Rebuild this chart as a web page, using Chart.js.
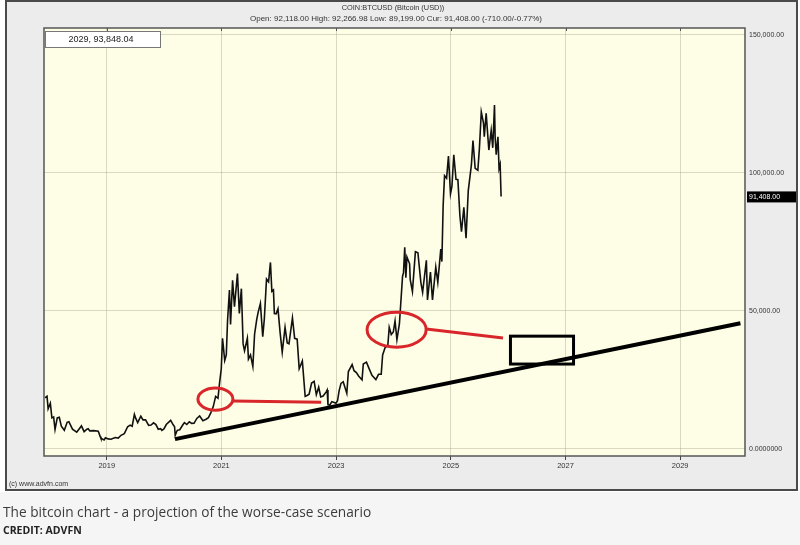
<!DOCTYPE html>
<html>
<head>
<meta charset="utf-8">
<script src="https://cdn.jsdelivr.net/npm/chart.js@4.4.1/dist/chart.umd.min.js"></script>
<style>
  html, body { margin: 0; padding: 0; background: #f5f5f5; }
  #wrap { position: relative; width: 800px; height: 545px; overflow: hidden; }
  #btcChart { position: absolute; left: 0; top: 0; }
  .caption { position: absolute; left: 3px; top: 502px; font-family: "Open Sans", sans-serif; font-size: 13.7px; color: #3c3c3c; white-space: nowrap; }
  .credit { position: absolute; left: 3px; top: 523px; font-family: "Open Sans", sans-serif; font-weight: 700; font-size: 10.5px; color: #222; }
</style>
</head>
<body>
<div id="wrap">
  <canvas id="btcChart" width="800" height="545"></canvas>
  <div class="caption">The bitcoin chart - a projection of the worse-case scenario</div>
  <div class="credit">CREDIT: ADVFN</div>
</div>
<script>
// price history (closes)
const priceDates = [
  "2017-12-05", "2017-12-17", "2017-12-24", "2018-01-07", "2018-01-17", "2018-01-28", "2018-02-06", "2018-02-20",
  "2018-03-05", "2018-03-18", "2018-04-06", "2018-04-24", "2018-05-05", "2018-05-28", "2018-06-24", "2018-07-24",
  "2018-08-10", "2018-08-28", "2018-09-05", "2018-09-15", "2018-10-10", "2018-11-08", "2018-11-20", "2018-11-25",
  "2018-12-15", "2018-12-24",
  "2019-01-10", "2019-01-28", "2019-02-24", "2019-03-15", "2019-04-02", "2019-04-23", "2019-05-14", "2019-05-30",
  "2019-06-12", "2019-06-26", "2019-07-05", "2019-07-17", "2019-08-06", "2019-08-20", "2019-09-05", "2019-09-25",
  "2019-10-10", "2019-10-26", "2019-11-10", "2019-11-25", "2019-12-10", "2019-12-18", "2019-12-31",
  "2020-01-15", "2020-02-12", "2020-02-28", "2020-03-08", "2020-03-12", "2020-03-25", "2020-04-10", "2020-04-30",
  "2020-05-10", "2020-05-25", "2020-06-10", "2020-06-25", "2020-07-10", "2020-07-28", "2020-08-15", "2020-09-05",
  "2020-09-25", "2020-10-10", "2020-10-25", "2020-11-10", "2020-11-25", "2020-12-10", "2020-12-20", "2020-12-31",
  "2021-01-08", "2021-01-22", "2021-02-01", "2021-02-09", "2021-02-21", "2021-02-28", "2021-03-13", "2021-03-25",
  "2021-04-13", "2021-04-25", "2021-05-08", "2021-05-19", "2021-05-28", "2021-06-15", "2021-06-22", "2021-07-05",
  "2021-07-20", "2021-07-31", "2021-08-14", "2021-08-23", "2021-09-06", "2021-09-21", "2021-10-01", "2021-10-15",
  "2021-10-28", "2021-11-09", "2021-11-18", "2021-11-28", "2021-12-04", "2021-12-15", "2021-12-27",
  "2022-01-10", "2022-01-23", "2022-02-10", "2022-02-24", "2022-03-07", "2022-03-29", "2022-04-12", "2022-04-28",
  "2022-05-11", "2022-05-31", "2022-06-18", "2022-06-30", "2022-07-13", "2022-07-29", "2022-08-14", "2022-08-28",
  "2022-09-12", "2022-09-25", "2022-10-10", "2022-10-30", "2022-11-05", "2022-11-10", "2022-11-21", "2022-12-05",
  "2022-12-20", "2022-12-31",
  "2023-01-10", "2023-01-20", "2023-02-01", "2023-02-15", "2023-03-10", "2023-03-20", "2023-04-13", "2023-04-25",
  "2023-05-10", "2023-05-25", "2023-06-15", "2023-06-23", "2023-07-13", "2023-07-28", "2023-08-17", "2023-09-11",
  "2023-09-28", "2023-10-15", "2023-10-24", "2023-11-09", "2023-11-26", "2023-12-05", "2023-12-18", "2023-12-31",
  "2024-01-11", "2024-01-23", "2024-02-08", "2024-02-28", "2024-03-05", "2024-03-13", "2024-03-20", "2024-03-27",
  "2024-04-13", "2024-04-17", "2024-05-01", "2024-05-20", "2024-06-05", "2024-06-24", "2024-07-05", "2024-07-29",
  "2024-08-05", "2024-08-24", "2024-09-06", "2024-09-27", "2024-10-10", "2024-10-29", "2024-11-05", "2024-11-13",
  "2024-11-22", "2024-12-05", "2024-12-17", "2024-12-30",
  "2025-01-08", "2025-01-20", "2025-02-03", "2025-02-15", "2025-02-28", "2025-03-10", "2025-03-25", "2025-04-08",
  "2025-04-22", "2025-05-12", "2025-05-22", "2025-06-05", "2025-06-22", "2025-07-02", "2025-07-14", "2025-07-28",
  "2025-08-02", "2025-08-14", "2025-08-31", "2025-09-15", "2025-09-25", "2025-10-06", "2025-10-10", "2025-10-17",
  "2025-10-28", "2025-11-04", "2025-11-11", "2025-11-17"
];
const priceValues = [
  18500, 19000, 14500, 16500, 11200, 11500, 7000, 11200,
  11400, 8200, 6700, 9600, 9800, 7100, 6000, 8300,
  6200, 7100, 7300, 6500, 6600, 6400, 4500, 3800,
  3200, 4000,
  3600, 3450, 4100, 3900, 4900, 5500, 8000, 8600,
  8200, 12500, 11000, 9500, 11800, 10500, 10500, 8500,
  8600, 9400, 8800, 7100, 7300, 6700, 7200,
  8800, 10300, 8700, 8000, 4900, 6700, 6900, 8700,
  9500, 8800, 9800, 9200, 9250, 11000, 11900, 10200,
  10700, 11300, 13000, 15300, 19000, 18300, 23800, 29000,
  40000, 32000, 34000, 46500, 57500, 45000, 61000, 51500,
  63500, 49000, 58000, 38000, 35500, 40000, 32500, 34000,
  29800, 41500, 47000, 49500, 52600, 40600, 47000, 61500,
  60500, 67500, 57000, 57500, 49000, 48900, 50700,
  41800, 35000, 44000, 38300, 38000, 47400, 40000, 39700,
  29000, 31800, 19000, 19300, 19800, 23800, 24400, 19600,
  22300, 18800, 19100, 20600, 21300, 16000, 15800, 17100,
  16800, 16500,
  17400, 21000, 23700, 24300, 20100, 28000, 30500, 28300,
  27600, 26300, 25000, 30700, 31400, 29300, 26600, 25100,
  27000, 27000, 34000, 36700, 37400, 44000, 41400, 42300,
  46300, 39500, 45300, 62500, 63800, 73000, 62000, 69500,
  67000, 61300, 57000, 71400, 71000, 60200, 56700, 68300,
  53900, 64000, 53900, 65800, 60300, 72300, 67800, 88000,
  98900, 98000, 106000, 92300,
  95000, 106500, 97600, 97500, 84300, 78600, 87500, 76300,
  93400, 102800, 111600, 101600, 100900, 108800, 122000, 118000,
  113000, 121500, 108200, 115300, 109000, 124500, 113000, 106500,
  113000, 101500, 103000, 91400
];

// projected support line
const trendYears = [2020.19, 2030.05];
const trendValues = [3500, 45500];

// red connector lines leaving the circles
const link1Years = [2021.20, 2022.74];
const link1Values = [17300, 16900];
const link2Years = [2024.57, 2025.91];
const link2Values = [43400, 40100];

// red circles: left/right year, low/high value
const ringFromYears = [2020.59, 2023.54];
const ringToYears = [2021.20, 2024.57];
const ringLowValues = [14000, 36800];
const ringHighValues = [22000, 49500];

// black target box
const boxYears = [2026.04, 2027.14];
const boxValues = [30700, 40800];

// axes
const xTickYears = [2019, 2021, 2023, 2025, 2027, 2029];
const yTickValues = [0, 50000, 100000, 150000];
const yTickLabels = ["0.0000000", "50,000.00", "100,000.00", "150,000.00"];

const lastPrice = 91408;
const lastPriceLabel = "91,408.00";
const cursorLabel = "2029, 93,848.04";
const titleLine = "COIN:BTCUSD (Bitcoin (USD))";
const quoteLine = "Open: 92,118.00 High: 92,266.98 Low: 89,199.00 Cur: 91,408.00 (-710.00/-0.77%)";

function toYear(s) {
  const [y, m, d] = s.split("-").map(Number);
  const start = Date.UTC(y, 0, 1), end = Date.UTC(y + 1, 0, 1);
  return y + (Date.UTC(y, m - 1, d) - start) / (end - start);
}

const pricePoints = priceDates.map((d, i) => ({ x: toYear(d), y: priceValues[i] }));
const pairs = (xs, ys) => xs.map((x, i) => ({ x: x, y: ys[i] }));

const FONT = "'Liberation Sans', Arial, sans-serif";

const framePlugin = {
  id: "frame",
  beforeDraw(chart) {
    const ctx = chart.ctx;
    const a = chart.chartArea;
    ctx.save();
    ctx.fillStyle = "#ffffff";
    ctx.fillRect(0, 0, 800, 492);
    ctx.fillStyle = "#ececec";
    ctx.fillRect(6, 1, 791, 489);
    ctx.strokeStyle = "#4a4a4a";
    ctx.lineWidth = 2;
    ctx.strokeRect(6, 1, 791, 489);
    ctx.fillStyle = "#fefee6";
    ctx.fillRect(a.left, a.top, a.right - a.left, a.bottom - a.top);
    ctx.restore();
  },
  afterDraw(chart) {
    const ctx = chart.ctx;
    const a = chart.chartArea;
    const xs = chart.scales.x, ys = chart.scales.y;
    ctx.save();
    // plot border
    ctx.strokeStyle = "#555";
    ctx.lineWidth = 1.5;
    ctx.strokeRect(a.left, a.top, a.right - a.left, a.bottom - a.top);
    // small ticks on the top edge
    ctx.lineWidth = 1;
    xTickYears.forEach(v => {
      const px = Math.round(xs.getPixelForValue(v)) + 0.5;
      ctx.beginPath();
      ctx.moveTo(px, a.top);
      ctx.lineTo(px, a.top + 3);
      ctx.stroke();
    });
    // header
    ctx.fillStyle = "#333";
    ctx.textAlign = "center";
    ctx.textBaseline = "middle";
    ctx.font = "7.4px " + FONT;
    ctx.fillText(titleLine, 393, 8);
    ctx.font = "8px " + FONT;
    ctx.fillText(quoteLine, 396, 19);
    // copyright
    ctx.font = "7px " + FONT;
    ctx.textAlign = "left";
    ctx.fillText("(c) www.advfn.com", 9, 484);
    // cursor readout box
    ctx.fillStyle = "#ffffff";
    ctx.fillRect(a.left + 1, a.top + 3, 115, 16);
    ctx.strokeStyle = "#777";
    ctx.lineWidth = 1;
    ctx.strokeRect(a.left + 1.5, a.top + 3.5, 115, 16);
    ctx.fillStyle = "#222";
    ctx.font = "9px " + FONT;
    ctx.textAlign = "center";
    ctx.fillText(cursorLabel, a.left + 57, a.top + 12);
    // last price tag
    const py = ys.getPixelForValue(lastPrice);
    ctx.fillStyle = "#000";
    ctx.fillRect(a.right + 2, py - 5, 49, 11);
    ctx.fillStyle = "#fff";
    ctx.font = "7px " + FONT;
    ctx.textAlign = "left";
    ctx.fillText(lastPriceLabel, a.right + 4, py + 0.5);
    ctx.restore();
  },
  afterDatasetsDraw(chart) {
    const ctx = chart.ctx;
    const xs = chart.scales.x, ys = chart.scales.y;
    ctx.save();
    ctx.strokeStyle = "#d8262a";
    ctx.lineWidth = 3;
    ringFromYears.forEach((x0, i) => {
      const l = xs.getPixelForValue(x0), r = xs.getPixelForValue(ringToYears[i]);
      const t = ys.getPixelForValue(ringHighValues[i]), b = ys.getPixelForValue(ringLowValues[i]);
      ctx.beginPath();
      ctx.ellipse((l + r) / 2, (t + b) / 2, (r - l) / 2, (b - t) / 2, 0, 0, Math.PI * 2);
      ctx.stroke();
    });
    const bl = xs.getPixelForValue(boxYears[0]), br = xs.getPixelForValue(boxYears[1]);
    const bt = ys.getPixelForValue(boxValues[1]), bb = ys.getPixelForValue(boxValues[0]);
    ctx.strokeStyle = "#000";
    ctx.lineWidth = 3;
    ctx.strokeRect(bl, bt, br - bl, bb - bt);
    ctx.restore();
  }
};

new Chart(document.getElementById("btcChart"), {
  type: "line",
  data: {
    datasets: [
      { data: pricePoints, borderColor: "#111", borderWidth: 1.6, pointRadius: 0, tension: 0 },
      { data: pairs(trendYears, trendValues), borderColor: "#000", borderWidth: 4, pointRadius: 0 },
      { data: pairs(link1Years, link1Values), borderColor: "#d8262a", borderWidth: 3, pointRadius: 0 },
      { data: pairs(link2Years, link2Values), borderColor: "#d8262a", borderWidth: 3, pointRadius: 0 }
    ]
  },
  options: {
    responsive: false,
    animation: false,
    events: [],
    layout: { padding: { left: 44, top: 28, right: 5, bottom: 75 } },
    plugins: { legend: { display: false }, tooltip: { enabled: false } },
    scales: {
      x: {
        type: "linear",
        min: 2017.906,
        max: 2030.13,
        afterBuildTicks: s => { s.ticks = xTickYears.map(v => ({ value: v })); },
        afterFit: s => { s.height = 14; },
        border: { display: false },
        grid: { color: "rgba(150,150,120,0.35)", tickColor: "#444", tickLength: 4 },
        ticks: {
          callback: v => String(v),
          font: { size: 7.5, family: FONT },
          color: "#333",
          maxRotation: 0,
          autoSkip: false,
          padding: 1
        }
      },
      y: {
        position: "right",
        min: -2600,
        max: 152400,
        afterBuildTicks: s => { s.ticks = yTickValues.map(v => ({ value: v })); },
        afterFit: s => { s.width = 50; },
        border: { display: false },
        grid: { color: "rgba(150,150,120,0.35)", drawTicks: false },
        ticks: {
          callback: (v, i) => yTickLabels[i],
          crossAlign: "near",
          font: { size: 7, family: FONT },
          color: "#333",
          padding: 4
        }
      }
    }
  },
  plugins: [framePlugin]
});
</script>
</body>
</html>
